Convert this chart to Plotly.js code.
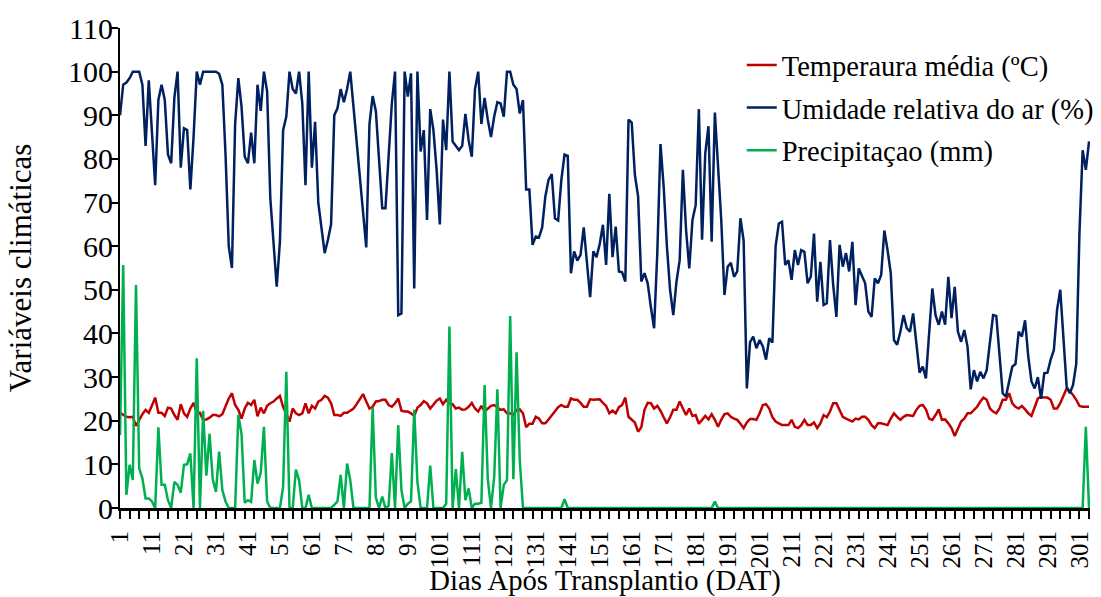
<!DOCTYPE html>
<html>
<head>
<meta charset="utf-8">
<script src="https://cdn.plot.ly/plotly-3.0.1.min.js"></script>
<style>
  html, body { margin: 0; padding: 0; background: #ffffff; }
  #chart { width: 1101px; height: 597px; }
</style>
</head>
<body>
<div id="chart"></div>
<script>
// Mean temperature (ºC), days 1..304
const temperatura = [
  21.8, 21.3, 20.9, 20.8, 20.9, 18.8, 20.2, 21.5, 22.5, 21.8,
  23.5, 25.3, 21.8, 21.8, 21.1, 23.0, 22.8, 21.3, 20.2, 23.8,
  21.7, 20.9, 22.8, 24.1, 21.8, 21.8, 20.2, 20.3, 20.7, 21.3,
  21.3, 21.0, 21.5, 23.4, 25.1, 26.3, 23.6, 22.5, 20.5, 22.8,
  24.1, 23.6, 24.8, 21.0, 23.0, 21.7, 23.4, 24.0, 24.4, 25.1,
  25.7, 23.2, 21.3, 19.8, 22.8, 21.7, 21.3, 21.7, 24.0, 21.7,
  23.4, 22.8, 24.4, 24.8, 25.7, 25.3, 24.0, 21.3, 21.3, 21.1,
  21.8, 21.8, 22.3, 22.8, 23.8, 24.9, 26.1, 24.4, 22.8, 23.2,
  24.4, 24.5, 24.8, 24.8, 23.6, 23.2, 24.0, 25.1, 22.3, 22.1,
  22.1, 21.7, 21.1, 23.0, 23.6, 24.5, 24.0, 22.8, 23.6, 24.6,
  25.1, 23.8, 24.8, 24.0, 23.8, 22.8, 23.0, 22.5, 22.6, 23.2,
  24.1, 22.8, 22.1, 23.4, 22.1, 22.8, 23.4, 23.6, 23.1, 22.5,
  22.6, 21.7, 21.7, 21.3, 22.5, 22.6, 21.7, 18.5, 19.3, 19.3,
  20.9, 20.5, 19.4, 19.4, 20.3, 21.3, 22.3, 23.1, 23.6, 23.2,
  23.2, 25.1, 24.8, 24.8, 24.1, 23.2, 23.2, 24.9, 24.8, 24.8,
  24.9, 24.1, 23.4, 21.7, 22.3, 21.7, 23.1, 23.6, 25.3, 20.9,
  20.2, 19.6, 17.5, 18.5, 22.5, 24.1, 24.0, 22.8, 23.4, 22.3,
  20.8, 19.4, 20.8, 22.5, 22.5, 24.4, 22.8, 21.3, 22.8, 21.1,
  21.3, 19.3, 20.2, 21.1, 20.3, 21.5, 20.2, 18.6, 20.2, 21.5,
  21.7, 20.9, 20.5, 20.2, 19.3, 18.3, 19.6, 20.4, 20.4, 20.2,
  21.7, 23.6, 23.8, 22.8, 20.8, 19.8, 19.4, 19.0, 19.0, 19.0,
  20.2, 18.6, 18.3, 19.0, 20.2, 19.0, 19.0, 19.6, 18.3, 19.4,
  21.3, 20.8, 22.1, 24.0, 24.0, 22.5, 20.9, 20.5, 20.2, 19.8,
  20.5, 20.3, 20.9, 20.9, 20.2, 19.0, 18.3, 19.4, 19.4, 19.2,
  19.0, 20.5, 21.7, 20.9, 20.2, 20.9, 21.3, 21.2, 21.1, 22.5,
  23.4, 23.6, 22.6, 20.5, 20.2, 21.3, 22.6, 20.2, 20.3, 19.4,
  18.3, 16.5, 18.3, 19.8, 20.5, 21.7, 21.7, 22.5, 23.2, 24.4,
  25.3, 24.8, 22.8, 22.1, 21.7, 22.8, 24.8, 24.8, 26.3, 24.0,
  23.2, 22.8, 23.4, 22.6, 21.7, 21.1, 23.2, 25.1, 25.5, 25.3,
  25.3, 24.8, 22.8, 22.8, 24.0, 25.9, 27.4, 26.7, 25.9, 24.8,
  23.4, 23.2, 23.2, 23.2
];

// Relative air humidity (%), days 1..304
const umidade = [
  90, 97, 97.5, 98.5, 100, 100, 100, 97, 83, 98,
  86, 74, 93.5, 97, 93.5, 81, 79, 94, 100, 78,
  87, 86.6, 73, 85, 100, 97, 100, 100, 100, 100,
  100, 99.5, 97, 81, 60, 55, 88, 98.5, 92, 80.5,
  79, 86, 79, 97, 91, 100, 95.5, 71, 61, 50.7,
  61, 86.6, 89.7, 100, 96, 95, 100, 92.7, 74, 100,
  78, 88.5, 70, 63.7, 58.4, 61.4, 65, 90, 91.6, 96,
  93, 96, 100, 92, 84, 77, 69, 59.7, 88, 94.4,
  91, 80.5, 68.7, 68.7, 80.5, 92.7, 100, 44.2, 44.6, 100,
  94.3, 99.6, 50.3, 100, 81.7, 86.6, 66, 91.4, 86.6, 77.5,
  65, 89, 82, 100, 84, 83, 82, 83, 90.3, 84.3,
  80.5, 96, 100, 88, 94, 89, 85, 89.7, 93, 92.7,
  89.7, 100, 100, 97, 96, 90.4, 93.5, 73, 73, 60.3,
  62.2, 62, 64.3, 71.4, 75.2, 76.5, 66.4, 65.9, 75.2, 81,
  80.7, 53.8, 58.8, 56.7, 58, 64.3, 56, 48.3, 58.8, 57.5,
  60.5, 64.9, 55.7, 72, 57.5, 64.5, 54.2, 54, 51.9, 89,
  88.3, 76.3, 71.4, 51.9, 53.8, 51.5, 46, 41.2, 58.4, 83.4,
  73.6, 60, 50, 44.2, 51.9, 56.8, 77.5, 63.7, 54.9, 66,
  69.4, 91.4, 61.5, 81.3, 87.5, 61, 90.6, 78.2, 66, 48.8,
  55.3, 56.2, 53, 54.2, 66.4, 61.3, 27.4, 38, 39.3, 36.6,
  38.5, 37, 34, 38.9, 37.9, 60, 65.2, 65.6, 55.7, 56.8,
  52.3, 59.1, 55.7, 59.1, 58.7, 51.5, 53, 62.9, 47.3, 56.4,
  46.5, 46.9, 61.4, 51.1, 43.8, 60.3, 55.3, 58.4, 54.2, 61,
  46.5, 54.9, 53, 51.5, 45, 43.8, 52.6, 51.5, 53.4, 63.6,
  59.1, 53.8, 38.5, 37.4, 40.4, 44.2, 41.2, 40.4, 44.6, 38,
  31, 32.4, 29.7, 40, 50.3, 44.2, 42, 45, 42, 53,
  43.5, 50.7, 40.4, 38.1, 40.8, 37, 27.2, 31.6, 29, 31.2,
  29.7, 31.6, 38.5, 44.2, 44, 36, 26.3, 25.5, 29.3, 32.4,
  33, 40.4, 39.3, 43, 34.7, 29, 27.4, 30, 25, 30.9,
  31, 34, 36.2, 45.4, 50, 39.3, 27.8, 26.3, 28.2, 33,
  63, 82, 77.5, 84
];

// Precipitation (mm), days 1..304
const precipitacao = [
  16.7, 55.7, 3, 9.9, 6.4, 51.1, 9.1, 6.8, 2.2, 2.2,
  1.5, 0, 18.5, 5.3, 5.3, 1.8, 0, 6, 5.3, 3.5,
  9.9, 10, 12.5, 0, 34.3, 0, 22.3, 7.4, 17, 6.6,
  3.7, 12.9, 4.1, 1.5, 0, 0, 0, 21.3, 17, 1.2,
  1.8, 1.4, 11, 5.6, 8, 18.6, 1.5, 0, 0, 0,
  0, 4.9, 31.2, 0, 0, 8.8, 6.4, 0, 0, 3,
  0, 0, 0, 0, 0, 0, 0, 0.7, 1.5, 7.6,
  0, 10.2, 6.4, 0, 0, 0, 0, 0, 0, 23,
  2.4, 0, 2.6, 0, 0.5, 12.6, 0, 19, 4.1, 0,
  1, 1.5, 22.5, 6, 0, 0, 0, 9.7, 0, 0,
  0, 0, 1, 41.6, 0, 8.9, 0, 12.9, 1.8, 4.5,
  0, 1, 1, 1.2, 28.2, 6.6, 0, 7, 27.2, 0,
  5.3, 6.4, 44, 6.6, 35.7, 11, 0, 0, 0, 0,
  0, 0, 0, 0, 0, 0, 0, 0, 0, 2,
  0, 0, 0, 0, 0, 0, 0, 0, 0, 0,
  0, 0, 0, 0, 0, 0, 0, 0, 0, 0,
  0, 0, 0, 0, 0, 0, 0, 0, 0, 0,
  0, 0, 0, 0, 0, 0, 0, 0, 0, 0,
  0, 0, 0, 0, 0, 0, 1.5, 0, 0, 0,
  0, 0, 0, 0, 0, 0, 0, 0, 0, 0,
  0, 0, 0, 0, 0, 0, 0, 0, 0, 0,
  0, 0, 0, 0, 0, 0, 0, 0, 0, 0,
  0, 0, 0, 0, 0, 0, 0, 0, 0, 0,
  0, 0, 0, 0, 0, 0, 0, 0, 0, 0,
  0, 0, 0, 0, 0, 0, 0, 0, 0, 0,
  0, 0, 0, 0, 0, 0, 0, 0, 0, 0,
  0, 0, 0, 0, 0, 0, 0, 0, 0, 0,
  0, 0, 0, 0, 0, 0, 0, 0, 0, 0,
  0, 0, 0, 0, 0, 0, 0, 0, 0, 0,
  0, 0, 0, 0, 0, 0, 0, 0, 0, 0,
  0, 0, 18.6, 0
];

const tickLabels = ['1','11','21','31','41','51','61','71','81','91','101','111','121','131','141','151','161','171','181','191','201','211','221','231','241','251','261','271','281','291','301'];
const seriesNames = ['Temperaura média (ºC)', 'Umidade relativa do ar (%)', 'Precipitaçao (mm)'];

const dias = temperatura.map((_, i) => i + 1);
const tickVals = tickLabels.map(Number);

const FONT = '"Liberation Serif", "Times New Roman", Times, serif';

const traces = [
  { x: dias, y: temperatura, name: seriesNames[0], legendgroup: 'a', type: 'scatter', mode: 'lines',
    line: { color: '#C00000', width: 2.5 } },
  { x: dias, y: umidade, name: seriesNames[1], legendgroup: 'b', type: 'scatter', mode: 'lines',
    line: { color: '#002060', width: 2.5 } },
  { x: dias, y: precipitacao, name: seriesNames[2], legendgroup: 'c', type: 'scatter', mode: 'lines',
    line: { color: '#00B050', width: 2.5 } }
];

const layout = {
  width: 1101, height: 597,
  margin: { l: 120, r: 2, t: 28, b: 89 },
  paper_bgcolor: '#ffffff', plot_bgcolor: '#ffffff',
  font: { family: FONT, color: '#000000', size: 26 },
  showlegend: true,
  legend: {
    x: 0.641, y: 0.975, xanchor: 'left', yanchor: 'top',
    bgcolor: 'rgba(0,0,0,0)', font: { family: FONT, size: 28.5, color: '#000' },
    traceorder: 'grouped', tracegroupgap: 2.5
  },
  xaxis: {
    range: [1, 304.3],
    tickmode: 'array', tickvals: tickVals, ticktext: tickLabels,
    tickangle: -90, ticks: '', ticklabelstandoff: 10, ticklabeloverflow: 'allow',
    tickfont: { family: FONT, size: 25 },
    minor: { tick0: 1, dtick: 3, ticks: 'outside', ticklen: 8, tickwidth: 2, tickcolor: '#000', showgrid: false },
    showline: true, linecolor: '#000', linewidth: 3,
    showgrid: false, zeroline: false,
    title: { text: 'Dias Após Transplantio (DAT)', font: { family: FONT, size: 28.7 }, standoff: 0 }
  },
  yaxis: {
    range: [0, 110], tickmode: 'linear', tick0: 0, dtick: 10,
    ticks: 'outside', ticklen: 8, tickwidth: 2, tickcolor: '#000',
    tickfont: { family: FONT, size: 30 }, ticklabelstandoff: -9,
    showline: true, linecolor: '#000', linewidth: 2,
    showgrid: false, zeroline: false,
    title: { text: 'Variáveis climáticas', font: { family: FONT, size: 31 }, standoff: 27 }
  }
};

Plotly.newPlot('chart', traces, layout, { displayModeBar: false, staticPlot: true });
</script>
</body>
</html>
